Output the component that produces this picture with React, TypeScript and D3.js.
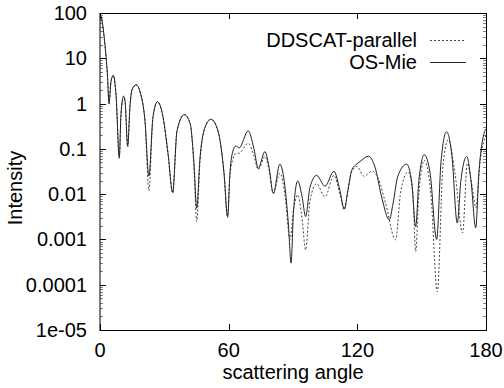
import React from "react";
import * as d3 from "d3";

const osMieAngle = [0,0.5,2.3,3.5,4.2,5.1,6.2,7.5,9.0,9.8,11.0,11.7,12.9,14.0,14.9,16.8,18.7,21.0,22.8,24.7,26.8,29.4,31.7,33.9,35.9,39.3,42.0,43.8,45.1,46.6,49.0,51.7,55.0,57.8,59.5,60.6,62.0,63.4,64.9,69.1,71.8,73.8,76.9,78.8,80.8,83.9,86.2,87.9,89.1,90.2,92.2,94.2,95.9,97.9,101.0,104.9,109.1,111.9,113.9,115.6,117.3,119.4,121.2,125.1,128.2,131.5,134.9,136.6,138.9,143.0,145.4,147.2,148.7,151.2,153.9,157.0,159.0,161.6,164.1,166.6,168.3,171.0,173.0,175.2,176.7,179.1,180];
const osMieValue = [90,83,20,4,1.0,3,4.2,1.5,0.065,0.6,1.45,1.1,0.115,0.9,2.0,2.6,1.8,0.4,0.025,0.5,1.1,0.5,0.08,0.011,0.25,0.57,0.37,0.05,0.0049,0.06,0.3,0.45,0.25,0.03,0.0032,0.03,0.09,0.116,0.105,0.25,0.1,0.037,0.087,0.04,0.0104,0.046,0.015,0.002,0.0003,0.004,0.0195,0.009,0.0032,0.014,0.026,0.015,0.032,0.012,0.0047,0.012,0.033,0.045,0.052,0.069,0.04,0.008,0.0027,0.006,0.025,0.046,0.018,0.0019,0.02,0.074,0.03,0.001,0.05,0.24,0.07,0.0023,0.02,0.068,0.02,0.0018,0.03,0.22,0.28];

const ddscatAngle = [0,0.5,2.3,3.5,4.2,5.1,6.2,7.5,9.0,9.8,11.0,11.7,12.9,14.0,14.9,16.8,18.7,21.0,22.8,24.7,26.8,29.4,31.7,33.9,35.9,39.3,42.0,43.8,45.1,46.6,49.0,51.7,55.0,57.8,59.5,60.6,62.0,63.4,64.9,69.1,71.8,73.8,76.9,78.8,80.8,83.9,86.2,88.6,90.4,92.2,94.2,95.9,97.9,101.0,104.9,109.1,111.9,113.9,115.6,117.3,119.7,123.1,126.8,129.6,133.3,137.8,140.3,143.7,145.9,147.2,148.7,151.2,154.3,157.3,159.9,162.4,165.5,169.1,171.3,173.5,175.3,177.2,180];
const ddscatValue = [90,83,20,4,1.0,3,4.2,1.5,0.06,0.6,1.45,1.1,0.11,0.9,2.0,2.6,1.8,0.4,0.012,0.5,1.1,0.5,0.08,0.0105,0.25,0.57,0.37,0.04,0.0025,0.05,0.3,0.45,0.25,0.03,0.003,0.025,0.06,0.079,0.08,0.133,0.07,0.035,0.068,0.035,0.0105,0.029,0.01,0.001,0.005,0.0096,0.003,0.00059,0.007,0.017,0.0087,0.026,0.01,0.0045,0.012,0.03,0.041,0.025,0.032,0.023,0.006,0.00098,0.012,0.031,0.01,0.00054,0.01,0.056,0.01,0.00007,0.04,0.16,0.03,0.0014,0.048,0.015,0.005,0.05,0.2];

const xTicks = [0, 60, 120, 180];
const yTicks = [1e-5, 1e-4, 1e-3, 1e-2, 1e-1, 1, 10, 100];
const yTickLabels = ["1e-05", "0.0001", "0.001", "0.01", "0.1", "1", "10", "100"];
const legendLabels = ["DDSCAT-parallel", "OS-Mie"];

const W = 504, H = 388;
const L = 100, R = 486, T = 13, B = 330;
const FONT = "'Liberation Sans', Arial, Helvetica, sans-serif";
const FS = 20;

export default function App() {
  const x = d3.scaleLinear().domain([0, 180]).range([L, R]);
  const y = d3.scaleLog().domain([1e-5, 100]).range([B, T]);
  const line = d3.line<[number, number]>()
    .x(d => x(d[0])).y(d => y(d[1])).curve(d3.curveMonotoneX);
  const osPts = osMieAngle.map((a, i) => [a, osMieValue[i]] as [number, number]);
  const ddPts = ddscatAngle.map((a, i) => [a, ddscatValue[i]] as [number, number]);

  const minor: number[] = [];
  for (let e = -5; e < 2; e++) for (let m = 2; m <= 9; m++) minor.push(m * Math.pow(10, e));

  return (
    <svg width={W} height={H} style={{ position: "absolute", left: 0, top: 0, background: "#fff" }} fontFamily={FONT}>
      <defs>
        <clipPath id="plot"><rect x={L} y={T} width={R - L} height={B - T} /></clipPath>
      </defs>
      <rect x={0} y={0} width={W} height={H} fill="#fff" />
      {minor.map((v, i) => (
        <g key={"m" + i} stroke="#000" strokeWidth={0.7} opacity={0.7}>
          <line x1={L} x2={L + 3} y1={Math.round(y(v)) + 0.5} y2={Math.round(y(v)) + 0.5} />
          <line x1={R} x2={R - 3} y1={Math.round(y(v)) + 0.5} y2={Math.round(y(v)) + 0.5} />
        </g>
      ))}
      {yTicks.map((v, i) => (
        <g key={"y" + i}>
          <line x1={L} x2={L + 6} y1={Math.round(y(v)) + 0.5} y2={Math.round(y(v)) + 0.5} stroke="#000" />
          <line x1={R} x2={R - 6} y1={Math.round(y(v)) + 0.5} y2={Math.round(y(v)) + 0.5} stroke="#000" />
          <text x={87} y={y(v) + 7} textAnchor="end" fontSize={FS} fill="#000">{yTickLabels[i]}</text>
        </g>
      ))}
      {xTicks.map((v, i) => (
        <g key={"x" + i}>
          <line x1={Math.round(x(v)) + 0.5} x2={Math.round(x(v)) + 0.5} y1={B} y2={B - 6} stroke="#000" />
          <line x1={Math.round(x(v)) + 0.5} x2={Math.round(x(v)) + 0.5} y1={T} y2={T + 6} stroke="#000" />
          <text x={x(v)} y={357} textAnchor="middle" fontSize={FS} fill="#000">{v}</text>
        </g>
      ))}
      <g clipPath="url(#plot)" fill="none">
        <path d={line(ddPts) || ""} stroke="#444" strokeWidth={1} strokeDasharray="2,2" />
        <path d={line(osPts) || ""} stroke="#222" strokeWidth={1} />
      </g>
      <rect x={L} y={T + 0.5} width={R - L + 0.5} height={B - T} fill="none" stroke="#000" strokeWidth={1} />
      <text x={417} y={47} textAnchor="end" fontSize={FS} fill="#000">{legendLabels[0]}</text>
      <line x1={430} x2={465} y1={40.5} y2={40.5} stroke="#444" strokeDasharray="2,2" />
      <text x={417} y={69} textAnchor="end" fontSize={FS} fill="#000">{legendLabels[1]}</text>
      <line x1={430} x2={466} y1={62.5} y2={62.5} stroke="#222" />
      <text x={293} y={379} textAnchor="middle" fontSize={FS} fill="#000">scattering angle</text>
      <text transform="translate(22,188) rotate(-90)" textAnchor="middle" fontSize={FS} fill="#000">Intensity</text>
    </svg>
  );
}
